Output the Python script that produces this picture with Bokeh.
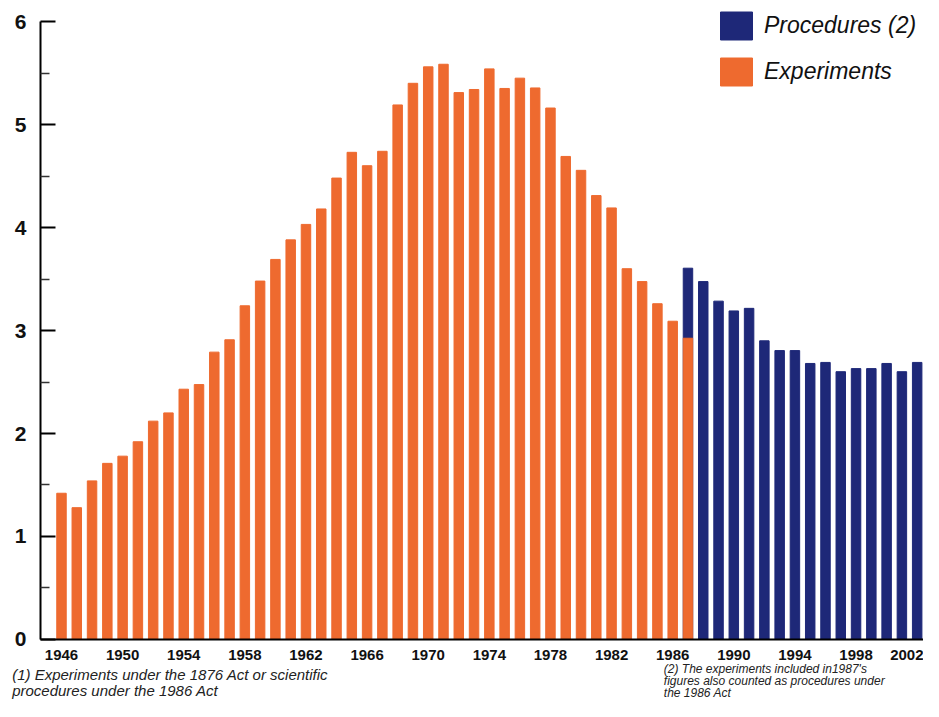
from bokeh.plotting import figure
from bokeh.models import FixedTicker, Legend, LegendItem, Label, Range1d
from bokeh.embed import file_html
from bokeh.resources import INLINE

exp_years = list(range(1946, 1988))
experiments = [1.42, 1.28, 1.54, 1.71, 1.78, 1.92, 2.12, 2.20, 2.43, 2.475,
               2.79, 2.91, 3.24, 3.48, 3.69, 3.88, 4.03, 4.18, 4.48, 4.73,
               4.60, 4.74, 5.19, 5.40, 5.56, 5.585, 5.31, 5.34, 5.54, 5.35,
               5.45, 5.355, 5.16, 4.69, 4.555, 4.31, 4.19, 3.60, 3.475, 3.26,
               3.09, 2.925]
proc_years = list(range(1987, 2003))
procedures = [3.605, 3.475, 3.285, 3.19, 3.215, 2.90, 2.805, 2.805, 2.68, 2.69,
              2.60, 2.63, 2.63, 2.68, 2.60, 2.69]
x_ticks = list(range(1946, 2003, 4))
x_tick_labels = [str(y) for y in x_ticks]
y_ticks = [0, 1, 2, 3, 4, 5, 6]
y_minor = [0.5, 1.5, 2.5, 3.5, 4.5, 5.5]

ORANGE = "#EE6A2F"
BLUE = "#1E2878"
FONT = "Liberation Sans"

X0 = 1944.626   # where the y axis sits
W, H = 923, 701

p = figure(width=W, height=H, output_backend="svg", toolbar_location=None,
           x_range=Range1d(1942.008, 2002.414), y_range=Range1d(-0.602, 6.204),
           min_border_left=0, min_border_right=0, min_border_top=0,
           min_border_bottom=0)
p.outline_line_color = None
p.xgrid.visible = False
p.ygrid.visible = False

r_proc = p.vbar(x=proc_years, top=procedures, width=0.62, color=BLUE)
r_exp = p.vbar(x=exp_years, top=experiments, width=0.62, color=ORANGE)

# y axis
ya = p.yaxis[0]
ya.fixed_location = X0
ya.bounds = (0, 6)
ya.ticker = FixedTicker(ticks=y_ticks, minor_ticks=y_minor)
ya.axis_line_width = 2
ya.axis_line_color = "black"
ya.major_tick_in = 15
ya.major_tick_out = 0
ya.minor_tick_in = 9
ya.minor_tick_out = 0
ya.major_tick_line_width = 2
ya.minor_tick_line_width = 1.5
ya.major_tick_line_color = "black"
ya.minor_tick_line_color = "#333333"
ya.major_label_text_font = FONT
ya.major_label_text_font_style = "bold"
ya.major_label_text_font_size = "21px"
ya.major_label_text_color = "#111111"
ya.major_label_standoff = 14

# x axis
xa = p.xaxis[0]
xa.fixed_location = 0
xa.bounds = (X0, 2002.414)
xa.ticker = FixedTicker(ticks=x_ticks)
xa.major_label_overrides = {t: l for t, l in zip(x_ticks, x_tick_labels)}
xa.axis_line_width = 2
xa.axis_line_color = "black"
xa.major_tick_in = 0
xa.major_tick_out = 0
xa.minor_tick_in = 0
xa.minor_tick_out = 0
xa.major_label_text_font = FONT
xa.major_label_text_font_style = "bold"
xa.major_label_text_font_size = "15px"
xa.major_label_text_color = "#111111"
xa.major_label_standoff = 11

legend = Legend(items=[LegendItem(label="Procedures (2)", renderers=[r_proc]),
                       LegendItem(label="Experiments", renderers=[r_exp])],
                location=(716, 612), orientation="vertical",
                glyph_width=40, glyph_height=35, label_height=35,
                label_standoff=8, spacing=11, padding=0, margin=0,
                border_line_color=None, background_fill_alpha=0,
                label_text_font=FONT, label_text_font_style="italic",
                label_text_font_size="23px", label_text_color="#111111")
p.add_layout(legend, "center")

note1 = Label(x=1942.77, y=-0.2621, x_units="data", y_units="data",
              text="(1) Experiments under the 1876 Act or scientific\nprocedures under the 1986 Act",
              text_font=FONT, text_font_style="italic", text_font_size="15px",
              text_color="#222222", text_baseline="top", text_line_height=0.9)
note2 = Label(x=1985.42, y=-0.2184, x_units="data", y_units="data",
              text="(2) The experiments included in1987's\nfigures also counted as procedures under\nthe 1986 Act",
              text_font=FONT, text_font_style="italic", text_font_size="12px",
              text_color="#222222", text_baseline="top", text_line_height=0.86)
p.add_layout(note1)
p.add_layout(note2)

open("out.html", "w").write(file_html(p, INLINE))
